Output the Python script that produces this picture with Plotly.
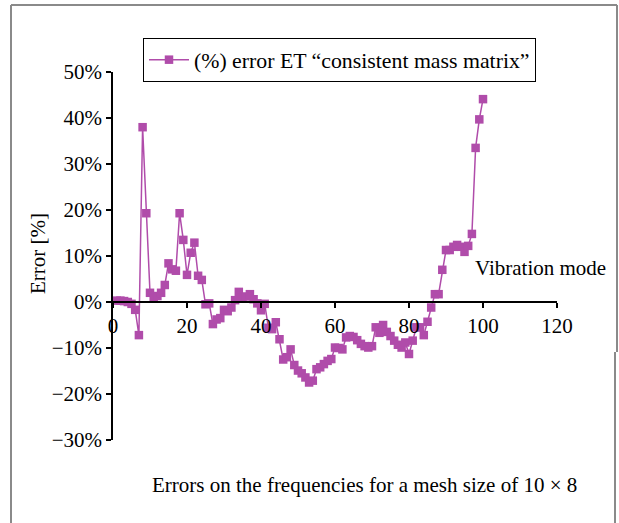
import plotly.graph_objects as go

modes = list(range(1, 101))
error_pct = [
    0.3, 0.3, 0.2, 0.0, -0.4, -1.7, -7.2, 38.0, 19.3, 2.0,
    0.8, 1.3, 2.0, 3.7, 8.4, 7.1, 6.8, 19.3, 13.5, 5.9,
    10.7, 12.9, 5.7, 4.8, -0.5, -0.3, -4.8, -3.8, -3.5, -1.7,
    -2.0, -1.2, 0.4, 2.2, 1.0, 1.2, 1.7, 0.6, -0.3, -1.8,
    -0.4, -5.6, -5.9, -4.4, -8.1, -12.5, -12.0, -10.3, -13.7, -14.9,
    -15.5, -16.4, -17.5, -17.1, -14.6, -14.2, -13.5, -12.8, -12.4, -9.9,
    -10.0, -10.3, -7.7, -7.4, -7.6, -8.3, -9.1, -9.6, -9.9, -9.6,
    -5.5, -6.7, -5.0, -6.5, -7.4, -8.4, -9.3, -9.9, -8.8, -11.3,
    -8.4, -5.5, -5.5, -7.2, -4.3, -1.2, 1.7, 1.7, 7.0, 11.3,
    11.3, 12.0, 12.4, 12.0, 10.9, 12.2, 14.8, 33.5, 39.7, 44.1,
]
series_name = "(%) error ET \u201cconsistent mass matrix\u201d"
x_ticks = [0, 20, 40, 60, 80, 100, 120]
y_ticks = [-30, -20, -10, 0, 10, 20, 30, 40, 50]
y_tick_labels = ["\u221230%", "\u221220%", "\u221210%", "0%", "10%", "20%", "30%", "40%", "50%"]

FONT = "Liberation Serif, Times New Roman, serif"
COLOR = "#B04CAA"
FS = 21

W, H = 619, 523
L, R, T, B = 113, 62, 72, 83
PW, PH = W - L - R, H - T - B


def px(x):
    return (x - L) / PW


def py(y):
    return (H - B - y) / PH


fig = go.Figure()
fig.add_trace(go.Scatter(
    x=modes, y=error_pct, mode="lines+markers", name=series_name,
    line=dict(color=COLOR, width=1.5),
    marker=dict(symbol="square", size=8.5, color=COLOR),
    showlegend=True,
))

fig.update_layout(
    width=W, height=H,
    margin=dict(l=L, r=R, t=T, b=B, pad=0),
    paper_bgcolor="white", plot_bgcolor="white",
    font=dict(family=FONT, size=FS, color="black"),
    showlegend=True,
    legend=dict(
        x=px(143), y=py(38), xanchor="left", yanchor="top",
        bordercolor="black", borderwidth=1, bgcolor="white",
        font=dict(family=FONT, size=21.8, color="black"),
        itemwidth=40,
    ),
    xaxis=dict(
        range=[0, 120], tickvals=x_ticks, showgrid=False, zeroline=False,
        showline=True, linecolor="black", linewidth=1.5,
        ticks="outside", ticklen=5, tickcolor="black", tickwidth=1.5,
        anchor="free", position=30 / 80,
        tickfont=dict(family=FONT, size=FS),
    ),
    yaxis=dict(
        range=[-30, 50], tickvals=y_ticks, ticktext=y_tick_labels, showgrid=False,
        zeroline=False, showline=True, linecolor="black", linewidth=1.5,
        ticks="outside", ticklen=5, tickcolor="black", tickwidth=1.5,
        tickfont=dict(family=FONT, size=FS), domain=[0, 1],
    ),
)

fig.add_annotation(text="Vibration mode", x=px(608), y=py(268), xref="paper", yref="paper",
                   xanchor="right", yanchor="middle", showarrow=False,
                   font=dict(family=FONT, size=FS))
fig.add_annotation(text="Error [%]", x=px(38), y=py(254), xref="paper", yref="paper",
                   xanchor="center", yanchor="middle", textangle=-90, showarrow=False,
                   font=dict(family=FONT, size=FS))
fig.add_annotation(text="Errors on the frequencies for a mesh size of 10 \u00d7 8",
                   x=px(364), y=py(485), xref="paper", yref="paper",
                   xanchor="center", yanchor="middle", showarrow=False,
                   font=dict(family=FONT, size=FS))

frame = dict(color="#8a8a8a", width=2)
fig.add_shape(type="line", xref="paper", yref="paper", x0=px(11), x1=px(11), y0=py(5), y1=py(523), line=frame)
fig.add_shape(type="line", xref="paper", yref="paper", x0=px(11), x1=px(617), y0=py(5), y1=py(5), line=frame)
fig.add_shape(type="line", xref="paper", yref="paper", x0=px(617), x1=px(617), y0=py(5), y1=py(352), line=frame)
fig.add_shape(type="line", xref="paper", yref="paper", x0=px(615), x1=px(615), y0=py(352), y1=py(523), line=frame)

fig.write_html("out.html", config={"displayModeBar": False},
               post_script="document.body.style.margin='0';document.body.style.overflow='hidden';")
